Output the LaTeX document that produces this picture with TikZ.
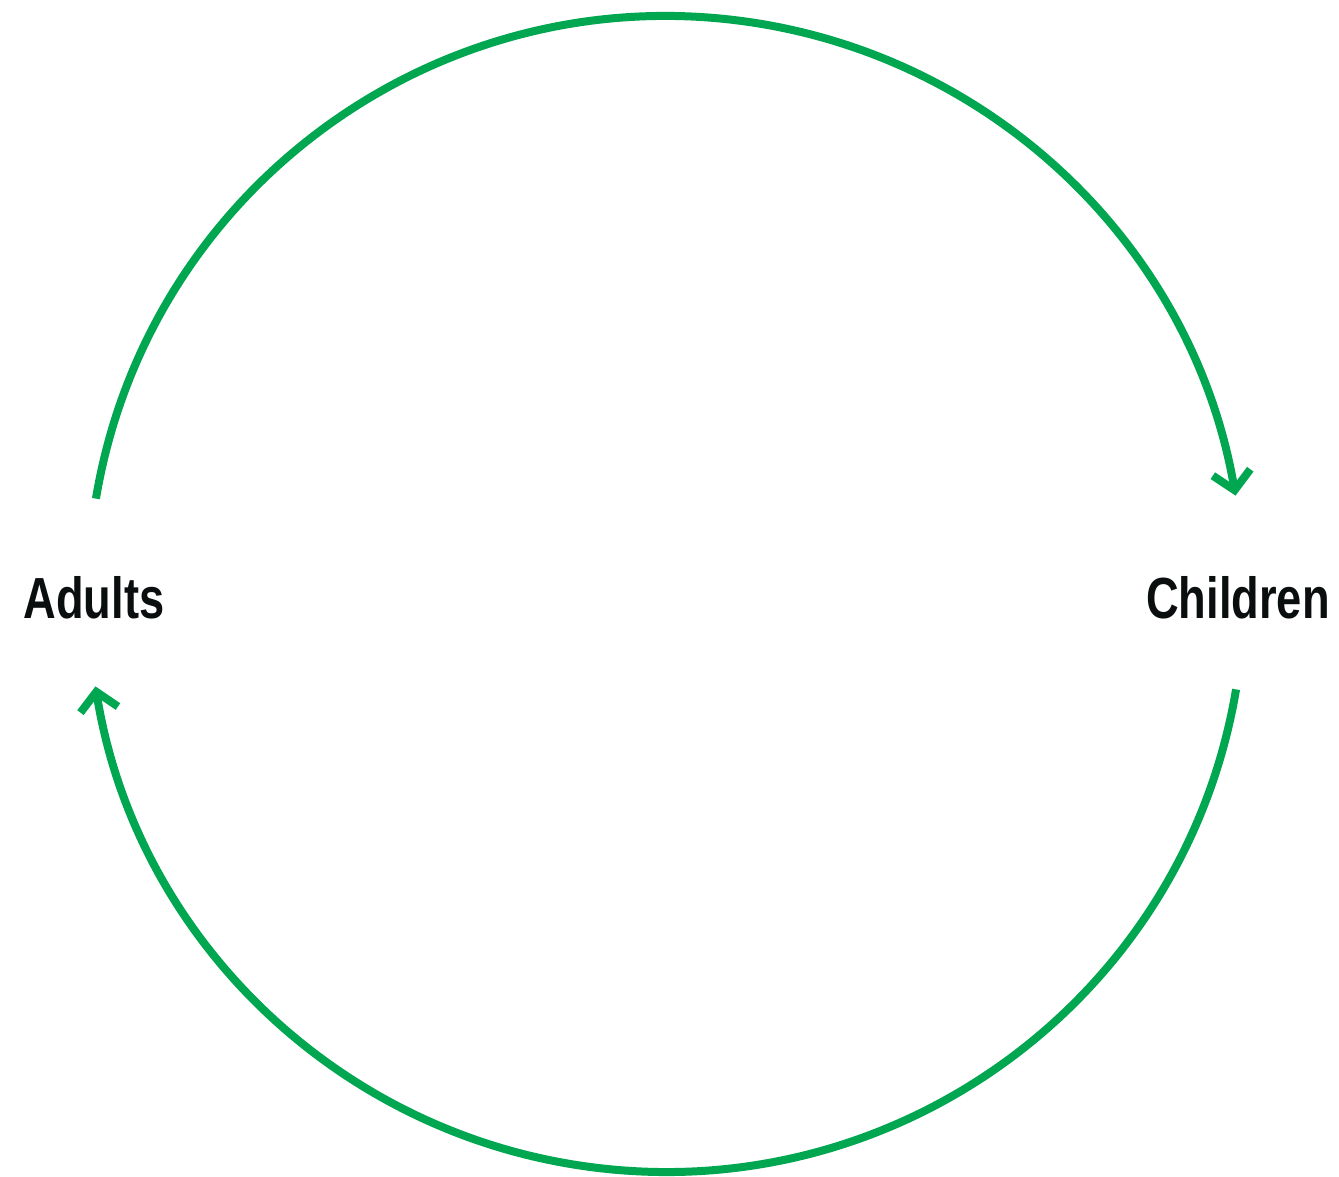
\documentclass[tikz,border=0pt]{standalone}
\usepackage{fontspec}
\setmainfont{Liberation Sans}[FakeStretch=0.78]
\usetikzlibrary{arrows.meta}
\definecolor{cyclegreen}{RGB}{0,166,80}
\definecolor{labelblack}{RGB}{10,14,14}

\begin{document}
\begin{tikzpicture}[
    x=0.5pt, y=0.5pt,
    >=Stealth,
    person/.style={font=\fontsize{29}{31}\selectfont\bfseries, text=labelblack,
                   inner sep=0pt},
    flow/.style={draw=cyclegreen, line width=4pt,
                 -{Straight Barb[length=9pt, width=19pt]}}
  ]
  \useasboundingbox (0,0) rectangle (1339,1177);

  \coordinate (mid) at (666,583);
  \node[person] (adults) at (94,579) {Adults};
  \node[person] (children) at (1238,579) {Children};

  \draw[flow] (mid) ++(170.5:289pt) arc[start angle=170.5, end angle=9.8, radius=289pt];
  \draw[flow] (mid) ++(-9.5:289pt) arc[start angle=-9.5, end angle=-170.8, radius=289pt];
\end{tikzpicture}
\end{document}
